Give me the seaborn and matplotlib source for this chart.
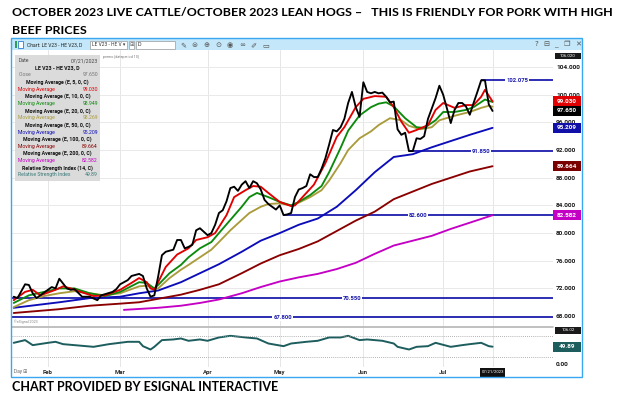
import matplotlib
matplotlib.use("Agg")
import matplotlib.pyplot as plt
import matplotlib.transforms as mtrans
from matplotlib.patches import Rectangle
from matplotlib.lines import Line2D
from matplotlib import font_manager
import numpy as np
import pandas as pd
import seaborn as sns

# ------------------------------------------------------------------ data
YEAR = 2023
HOLIDAYS = ["2023-01-16", "2023-02-20", "2023-04-07", "2023-05-29", "2023-06-19", "2023-07-04"]

close_dates = ["01-19", "01-20", "01-24", "01-25", "01-26", "01-27", "01-30", "02-02", "02-03", "02-06",
               "02-08", "02-09", "02-10", "02-14", "02-16", "02-21", "02-22", "02-27", "02-28", "03-01",
               "03-03", "03-06", "03-08", "03-09", "03-10", "03-13", "03-14", "03-15", "03-16", "03-17",
               "03-21", "03-22", "03-23", "03-24", "03-27", "03-28", "03-29", "03-30", "03-31", "04-03",
               "04-04", "04-05", "04-06", "04-10", "04-11", "04-12", "04-13", "04-14", "04-17", "04-18",
               "04-19", "04-20", "04-21", "04-24", "04-25", "04-26", "04-27", "04-28", "05-01", "05-02",
               "05-03", "05-04", "05-05", "05-08", "05-09", "05-10", "05-11", "05-12", "05-15", "05-16",
               "05-17", "05-18", "05-19", "05-22", "05-23", "05-24", "05-25", "05-26", "05-30", "05-31",
               "06-01", "06-02", "06-05", "06-06", "06-07", "06-08", "06-09", "06-12", "06-13", "06-14",
               "06-15", "06-16", "06-20", "06-21", "06-22", "06-23", "06-26", "06-27", "06-28", "06-29",
               "06-30", "07-03", "07-05", "07-06", "07-07", "07-10", "07-11", "07-12", "07-13", "07-14",
               "07-17", "07-18", "07-19", "07-20", "07-21"]
close_vals = [70.8, 70.6, 72.6, 72.5, 71.3, 70.6, 71.0, 72.2, 72.0, 73.4,
              72.0, 71.8, 71.9, 70.8, 70.8, 70.3, 71.0, 71.5, 71.9, 72.6,
              73.2, 73.8, 74.1, 73.8, 72.0, 70.8, 71.0, 73.7, 76.8, 77.3,
              77.6, 79.0, 79.0, 77.8, 78.0, 78.3, 80.4, 80.7, 80.2, 79.7,
              80.0, 81.2, 82.9, 83.3, 84.6, 86.5, 86.7, 86.1, 87.0, 87.5,
              86.5, 87.5, 87.2, 86.3, 84.8, 84.2, 83.8, 83.4, 84.0, 82.6,
              82.7, 82.9, 85.2, 86.3, 86.5, 86.8, 88.5, 88.1, 88.1, 89.3,
              90.8, 92.8, 94.9, 94.7, 95.3, 96.5, 98.8, 100.4, 98.2, 96.8,
              101.8, 100.4, 100.2, 100.4, 100.2, 100.3, 99.7, 98.9, 99.0, 95.0,
              94.2, 94.5, 91.85, 91.85, 93.7, 93.6, 94.0, 96.5, 98.0, 99.5,
              101.3, 100.0, 98.0, 95.9, 97.8, 98.8, 98.8, 98.3, 97.1, 98.8,
              100.4, 102.075, 102.075, 98.6, 97.65]

ema5_dates = ["01-19", "01-24", "01-26", "01-30", "02-03", "02-07", "02-09", "02-13", "02-17", "02-23",
              "03-01", "03-06", "03-08", "03-10", "03-13", "03-14", "03-15", "03-17", "03-22", "03-27",
              "03-29", "04-03", "04-05", "04-11", "04-13", "04-18", "04-20", "04-24", "04-26", "05-01",
              "05-04", "05-05", "05-10", "05-12", "05-17", "05-22", "05-24", "05-30", "06-01", "06-06",
              "06-09", "06-13", "06-15", "06-20", "06-22", "06-27", "06-29", "07-03", "07-07", "07-12",
              "07-14", "07-18", "07-19", "07-21"]
ema5_vals = [70.3, 71.5, 71.8, 71.0, 71.8, 72.3, 72.0, 71.6, 70.9, 71.0,
             71.8, 72.8, 73.5, 72.9, 72.0, 71.8, 72.9, 75.1, 76.9, 77.8,
             79.0, 79.4, 80.0, 82.6, 85.2, 86.2, 86.8, 86.7, 85.8, 84.5,
             83.9, 84.0, 85.8, 87.0, 90.1, 93.9, 95.3, 98.2, 99.4, 99.8,
             99.7, 98.2, 96.1, 94.5, 94.9, 95.6, 97.8, 98.8, 98.1, 98.5,
             98.5, 99.7, 100.7, 99.03]

ema10_dates = ["01-19", "01-25", "01-31", "02-06", "02-10", "02-16", "02-23", "03-01", "03-08", "03-10",
               "03-14", "03-15", "03-20", "03-23", "03-27", "03-30", "04-04", "04-06", "04-12", "04-17",
               "04-19", "04-21", "04-26", "05-01", "05-04", "05-08", "05-11", "05-16", "05-18", "05-23",
               "05-25", "05-31", "06-05", "06-07", "06-09", "06-13", "06-16", "06-22", "06-26", "06-29",
               "07-03", "07-07", "07-12", "07-14", "07-19", "07-21"]
ema10_vals = [69.9, 71.0, 71.5, 72.0, 72.0, 71.3, 70.9, 71.5, 72.9, 72.8,
              72.0, 72.5, 74.2, 75.4, 76.5, 77.8, 78.7, 80.0, 81.9, 83.8,
              85.2, 85.8, 85.2, 84.5, 84.0, 84.5, 85.5, 86.8, 88.8, 92.3,
              94.8, 97.0, 98.2, 98.7, 98.9, 98.3, 96.6, 95.3, 95.2, 96.3,
              97.5, 97.5, 97.8, 98.2, 99.3, 98.949]

ema20_dates = ["01-19", "01-25", "01-31", "02-06", "02-10", "02-16", "02-23", "03-01", "03-08", "03-10",
               "03-14", "03-15", "03-20", "03-23", "03-27", "03-30", "04-04", "04-06", "04-12", "04-17",
               "04-19", "04-24", "04-26", "05-01", "05-04", "05-08", "05-11", "05-16", "05-18", "05-23",
               "05-25", "05-31", "06-05", "06-07", "06-12", "06-15", "06-20", "06-23", "06-28", "06-30",
               "07-06", "07-10", "07-13", "07-18", "07-20", "07-21"]
ema20_vals = [69.3, 70.3, 70.9, 71.3, 71.6, 71.3, 71.0, 71.3, 72.3, 72.4,
              72.0, 72.0, 73.5, 74.7, 75.4, 76.5, 77.6, 78.7, 80.4, 81.9,
              82.9, 83.8, 84.2, 84.3, 84.0, 84.4, 85.2, 86.2, 87.6, 90.1,
              92.0, 93.7, 94.7, 95.6, 96.6, 96.3, 95.5, 95.0, 95.3, 96.3,
              96.8, 97.1, 97.5, 98.1, 98.4, 98.269]

slow_dates = ["01-19", "02-06", "02-16", "03-01", "03-08", "03-15", "03-23", "03-30", "04-06", "04-17",
              "04-24", "05-01", "05-08", "05-15", "05-22", "05-30", "06-06", "06-13", "06-21", "06-28",
              "07-06", "07-13", "07-21"]
ema50_vals = [69.2, 70.0, 70.6, 70.8, 71.3, 71.7, 72.9, 74.2, 75.5, 77.3,
              78.9, 80.0, 81.2, 82.1, 83.8, 86.2, 88.8, 91.0, 91.4, 92.4,
              93.3, 94.2, 95.209]
ema100_vals = [68.45, 69.0, 69.5, 69.8, 70.0, 70.5, 71.1, 71.8, 72.6, 74.2,
               75.6, 76.8, 77.7, 78.8, 80.3, 81.8, 83.1, 84.9, 86.0, 87.1,
               88.0, 88.9, 89.664]
ema200_dates = ["03-02", "03-15", "03-23", "03-30", "04-06", "04-17", "04-24", "05-01", "05-08", "05-15",
                "05-22", "05-30", "06-06", "06-13", "06-21", "06-28", "07-06", "07-13", "07-21"]
ema200_vals = [68.9, 69.2, 69.5, 69.9, 70.4, 71.3, 72.2, 73.0, 73.6, 74.1,
               74.8, 75.7, 77.0, 78.2, 78.9, 79.6, 80.6, 81.5, 82.582]

rsi_dates = ["01-19", "01-24", "01-26", "02-01", "02-03", "02-07", "02-10", "02-17", "02-24", "03-03",
             "03-08", "03-09", "03-13", "03-14", "03-16", "03-21", "03-23", "03-27", "03-30", "04-03",
             "04-06", "04-12", "04-18", "04-21", "04-26", "05-02", "05-04", "05-10", "05-15", "05-18",
             "05-23", "05-25", "05-31", "06-02", "06-08", "06-13", "06-14", "06-20", "06-22", "06-27",
             "06-29", "07-06", "07-11", "07-13", "07-18", "07-20", "07-21"]
rsi_vals = [60.9, 68.6, 54.3, 60.9, 63.8, 57.1, 54.3, 49.5, 57.0, 63.8,
            63.8, 51.4, 41.9, 49.5, 68.6, 70.5, 73.3, 66.7, 70.5, 66.7,
            76.2, 80.9, 76.2, 73.3, 59.0, 51.4, 59.0, 63.8, 66.7, 76.2,
            76.2, 80.9, 68.6, 70.5, 66.7, 59.0, 49.5, 41.9, 49.5, 51.4,
            60.9, 49.5, 54.3, 57.1, 60.9, 51.4, 49.89]

level_vals = [102.075, 91.850, 82.600, 70.550, 67.800]
level_starts = ["07-18", "06-20", "05-02", None, None]
level_label_dates = [None, None, None, "05-26", None]

price_ticks = [68, 72, 76, 80, 84, 88, 92, 96, 100, 104]
month_starts = ["02-01", "03-01", "04-03", "05-01", "06-01", "07-03"]
month_labels = ["Feb", "Mar", "Apr", "May", "Jun", "Jul"]
last_date = "07-21"
last_label = "07/21/2023"

last_boxes = [99.030, 97.650, 95.209, 89.664, 82.582]
rsi_last = 49.89

legend_rows = [
    ("Date", "07/21/2023"),
    ("LE V23 - HE V23, D", None),
    ("Close", "97.650"),
    ("Moving Average (E, 5, 0, C)", None),
    ("Moving Average", "99.030"),
    ("Moving Average (E, 10, 0, C)", None),
    ("Moving Average", "98.949"),
    ("Moving Average (E, 20, 0, C)", None),
    ("Moving Average", "98.269"),
    ("Moving Average (E, 50, 0, C)", None),
    ("Moving Average", "95.209"),
    ("Moving Average (E, 100, 0, C)", None),
    ("Moving Average", "89.664"),
    ("Moving Average (E, 200, 0, C)", None),
    ("Moving Average", "82.582"),
    ("Relative Strength Index (14, C)", None),
    ("Relative Strength Index", "49.89"),
]

TITLE_1 = "OCTOBER 2023 LIVE CATTLE/OCTOBER 2023 LEAN HOGS \u2013   THIS IS FRIENDLY FOR PORK WITH HIGH"
TITLE_2 = "BEEF PRICES"
FOOTER = "CHART PROVIDED BY ESIGNAL INTERACTIVE"

# ------------------------------------------------------------------ style
C_CLOSE, C5, C10, C20 = "#000000", "#e00000", "#0c8a0c", "#aa9c3c"
C50, C100, C200 = "#0c0cb8", "#8a0000", "#c400c4"
C_LEVEL, C_RSI = "#1c1cae", "#1d5d5d"
legend_colors = ["#444444", "#111111", "#777777", "#111111", C5, "#111111", C10, "#111111", C20,
                 "#111111", C50, "#111111", C100, "#111111", C200, "#111111", "#3a7a7a"]
box_colors = [C5, "#000000", "#1010a8", "#7a0000", C200]

sns.set_theme(style="white")


def has_font(name):
    try:
        font_manager.findfont(font_manager.FontProperties(family=name), fallback_to_default=False)
        return True
    except Exception:
        return False


UI = "Liberation Sans Narrow" if has_font("Liberation Sans Narrow") else ("Roboto" if has_font("Roboto") else "DejaVu Sans")
TF = "Lato" if has_font("Lato") else "DejaVu Sans"
plt.rcParams["font.family"] = [UI, "DejaVu Sans"]

W, H = 623, 398
fig = plt.figure(figsize=(W / 100, H / 100), dpi=100)
fig.patch.set_facecolor("white")
R = fig.canvas.get_renderer()


def fx(x):
    return x / W


def fy(y):
    return 1 - y / H


def fsize(s, wpx, family, weight="normal"):
    t = fig.text(0, 0, s, fontsize=10, family=[family, "DejaVu Sans"], weight=weight)
    w = t.get_window_extent(R).width
    t.remove()
    return 10 * wpx / w


def ftext(x, y, s, **kw):
    kw.setdefault("family", [UI, "DejaVu Sans"])
    return fig.text(fx(x), fy(y), s, **kw)


def frect(x0, y0, x1, y1, **kw):
    r = Rectangle((fx(x0), fy(y1)), (x1 - x0) / W, (y1 - y0) / H, transform=fig.transFigure, **kw)
    fig.add_artist(r)
    return r


def fline(x0, y0, x1, y1, **kw):
    fig.add_artist(Line2D([fx(x0), fx(x1)], [fy(y0), fy(y1)], transform=fig.transFigure, **kw))


# trading-session calendar (x axis is session count, like the source chart)
sessions = pd.bdate_range("2023-01-17", "2023-08-31", freq="C", holidays=HOLIDAYS)
pos = pd.Series(np.arange(len(sessions)), index=sessions)


def S(dates):
    return [int(pos[pd.Timestamp(f"{YEAR}-{d}")]) for d in dates]


# ------------------------------------------------------------------ layout
PL, PR = 12, 553
PT, PB = 50, 326
RT, RB = 327, 367
ax = fig.add_axes([fx(PL), fy(PB), (PR - PL) / W, (PB - PT) / H])
axr = fig.add_axes([fx(PL), fy(RB), (PR - PL) / W, (RB - RT) / H])

x_first = S([close_dates[0]])[0]
x_last = S([last_date])[0]
xlim = (x_first - 0.45, x_last + 15.9)
for a in (ax, axr):
    a.set_xlim(*xlim)
    a.set_facecolor("white")
    for sp in a.spines.values():
        sp.set_visible(False)
ax.set_ylim(66.57, 106.46)
axr.set_ylim(-8, 106)

grid_x = S(month_starts) + [x_last]
for a in (ax, axr):
    a.set_xticks(grid_x)
    a.grid(True, axis="x", color="#e6e6e6", lw=0.7)
ax.grid(True, axis="y", color="#e9e9e9", lw=0.7)
ax.tick_params(axis="x", length=0, labelbottom=False)

# price scale on the right
ax.yaxis.tick_right()
ax.set_yticks(price_ticks)
fs_tick = fsize("104.000", 24, UI, "bold")
ax.set_yticklabels([f"{t:.3f}" for t in price_ticks], fontsize=fs_tick, fontweight="bold", color="#1a1a1a")
ax.tick_params(axis="y", length=0, pad=2.2)

# dates under the RSI pane
fs_date = fsize("Feb", 10, UI, "bold")
axr.set_xticklabels(month_labels + [""], fontsize=fs_date, fontweight="bold", color="#2a2a2a")
axr.tick_params(axis="x", length=0, pad=2.0)
axr.yaxis.tick_right()
axr.set_yticks([0])
axr.set_yticklabels(["0.00"], fontsize=fs_tick, fontweight="bold", color="#1a1a1a")
axr.tick_params(axis="y", length=0, pad=2.2)

# ------------------------------------------------------------------ levels
fs_lvl = fsize("102.075", 22, UI, "bold")
for v, st, ld in zip(level_vals, level_starts, level_label_dates):
    x0 = S([st])[0] if st else xlim[0]
    ax.hlines(v, x0, xlim[1], color=C_LEVEL, lw=1.3, zorder=2)
    xm = S([ld])[0] if ld else (x0 + xlim[1]) / 2
    ax.text(xm, v, f"{v:.3f}", ha="center", va="center", fontsize=fs_lvl, fontweight="bold",
            color=C_LEVEL, zorder=6, bbox=dict(facecolor="white", edgecolor="none", pad=0.6))

# ------------------------------------------------------------------ series
series = [
    (ema200_dates, ema200_vals, C200),
    (slow_dates, ema100_vals, C100),
    (slow_dates, ema50_vals, C50),
    (ema20_dates, ema20_vals, C20),
    (ema10_dates, ema10_vals, C10),
    (ema5_dates, ema5_vals, C5),
    (close_dates, close_vals, C_CLOSE),
]
for d, v, c in series:
    sns.lineplot(x=S(d), y=v, ax=ax, color=c, lw=1.35, estimator=None, sort=False, legend=False, zorder=3)
ax.set_xlabel("")
ax.set_ylabel("")

sns.lineplot(x=S(rsi_dates), y=rsi_vals, ax=axr, color=C_RSI, lw=1.4, estimator=None, sort=False, legend=False)
for lvl in (80, 20):
    axr.axhline(lvl, color="#9a9a9a", lw=0.6, ls=(0, (1, 1.5)))
axr.set_xlabel("")
axr.set_ylabel("")

# last-value boxes on the price scale
ppu = (PB - PT) / (106.46 - 66.57)
trans = mtrans.blended_transform_factory(fig.transFigure, ax.transData)
fs_box = fsize("99.030", 20, UI, "bold")
for v, c in zip(last_boxes, box_colors):
    hh = 10 / ppu
    ax.add_patch(Rectangle((fx(553), v - hh / 2), 28 / W, hh, transform=trans, facecolor=c,
                           edgecolor="none", clip_on=False, zorder=8))
    ax.text(fx(567), v, f"{v:.3f}", transform=trans, ha="center", va="center", color="white",
            fontsize=fs_box, fontweight="bold", clip_on=False, zorder=9)

rppu = (RB - RT) / 114.0
transr = mtrans.blended_transform_factory(fig.transFigure, axr.transData)
axr.add_patch(Rectangle((fx(553), rsi_last - 5 / rppu), 28 / W, 10 / rppu, transform=transr,
                        facecolor=C_RSI, edgecolor="none", clip_on=False, zorder=8))
axr.text(fx(567), rsi_last, f"{rsi_last:.2f}", transform=transr, ha="center", va="center", color="white",
         fontsize=fs_box, fontweight="bold", clip_on=False, zorder=9)

# ------------------------------------------------------------------ chrome
# title & footer
fs_t = fsize(TITLE_1, 601, TF, "bold")
ftext(12, 16, TITLE_1, fontsize=fs_t, family=[TF, "DejaVu Sans"], weight="bold", va="baseline", color="black")
ftext(12, 33.5, TITLE_2, fontsize=fs_t, family=[TF, "DejaVu Sans"], weight="bold", va="baseline", color="black")
fs_f = fsize(FOOTER, 268, TF, "bold")
ftext(12, 391, FOOTER, fontsize=fs_f, family=[TF, "DejaVu Sans"], weight="bold", va="baseline", color="black")

# window frame and toolbar
frect(11, 38.5, 581.5, 50, facecolor="#c4e8fa", edgecolor="none", zorder=1)
frect(10.5, 38, 582, 377, facecolor="none", edgecolor="#3aa8f0", lw=1.0, zorder=10)
frect(14.5, 41.5, 17, 48, facecolor="#2f9e50", edgecolor="none", zorder=2)
frect(18, 41.5, 22.5, 48, facecolor="white", edgecolor="#2f7bd6", lw=0.6, zorder=2)
ftext(27, 45, "Chart: LE V23 - HE V23, D", fontsize=fsize("Chart: LE V23 - HE V23, D", 56, UI), va="center",
      color="#222222", zorder=3)
frect(90, 41.5, 127, 48.5, facecolor="white", edgecolor="#9a9a9a", lw=0.5, zorder=2)
ftext(91.5, 45, "LE V23 - HE V \u25be", fontsize=fsize("LE V23 - HE V \u25be", 33, UI), va="center",
      color="#333333", zorder=3)
frect(128.5, 41.5, 134, 48.5, facecolor="white", edgecolor="#9a9a9a", lw=0.5, zorder=2)
ftext(131.2, 45, "\u229e", fontsize=3.6, ha="center", va="center", color="#555555", zorder=3)
frect(135.5, 41.5, 175, 48.5, facecolor="white", edgecolor="#9a9a9a", lw=0.5, zorder=2)
ftext(137.5, 45, "D", fontsize=fs_date * 0.9, va="center", color="#333333", zorder=3)
tool_icons = ["\u270e", "\u229c", "\u2295", "\u2299", "\u25c9", "\u221e", "\u2710", "\u25ad"]
for i, g in enumerate(tool_icons):
    ftext(183 + 11.8 * i, 45, g, fontsize=5.2, ha="center", va="center", color="#555555",
          family=["DejaVu Sans"], zorder=3)
for xg, g in zip([536, 546, 556, 567, 578], ["?", "\u229f", "_", "\u2750", "\u2715"]):
    ftext(xg, 44.5, g, fontsize=5.2, ha="center", va="center", color="#555555", family=["DejaVu Sans"], zorder=3)

# top-of-scale labels
frect(555, 53, 581, 59, facecolor="#1a1a1a", edgecolor="none", zorder=4)
ftext(568, 56, "106.020", fontsize=fs_box * 0.7, ha="center", va="center", color="white", zorder=5)
frect(555, 327, 581, 333.5, facecolor="#1a1a1a", edgecolor="none", zorder=4)
ftext(568, 330.2, "106.02", fontsize=fs_box * 0.7, ha="center", va="center", color="white", zorder=5)

# pane separator, small captions
fline(PL, 326.6, PR, 326.6, color="#b5b5b5", lw=1.2, zorder=4)
ftext(14, 322, "\u00a9eSignal 2023", fontsize=2.6, va="center", color="#888888", zorder=4)
ftext(103, 57, "premo [dateperiod 10]", fontsize=2.6, va="center", color="#777777", zorder=4)
ftext(14, 372, "Day \u229e", fontsize=fs_date * 0.8, va="center", color="#666666", zorder=4)

# last date box on the time axis
xd = ax.transData.transform((x_last, 80))[0] / W
frect(xd * W - 12.5, 367.5, xd * W + 12.5, 377, facecolor="#111111", edgecolor="none", zorder=4)
ftext(xd * W, 372.2, last_label, fontsize=fsize(last_label, 22, UI), ha="center", va="center",
      color="white", zorder=5)

# data window (legend) box
frect(15, 55, 100, 181, facecolor="#d9d9d9", edgecolor="none", alpha=0.93, zorder=5)
fs_head = fsize("Moving Average (E, 100, 0, C)", 69, UI, "bold")
fs_pair = fsize("Moving Average", 37, UI)
for i, ((name, val), col) in enumerate(zip(legend_rows, legend_colors)):
    yy = 60.7 + 7.14 * i
    if val is None:
        ftext(57.5, yy, name, fontsize=fs_head, weight="bold", ha="center", va="center", color=col, zorder=6)
    else:
        ftext(18.5, yy, name, fontsize=fs_pair, ha="left", va="center", color=col, zorder=6)
        ftext(98, yy, val, fontsize=fs_pair, ha="right", va="center", color=col, zorder=6)

fig.savefig("out.png", dpi=100, facecolor="white")
